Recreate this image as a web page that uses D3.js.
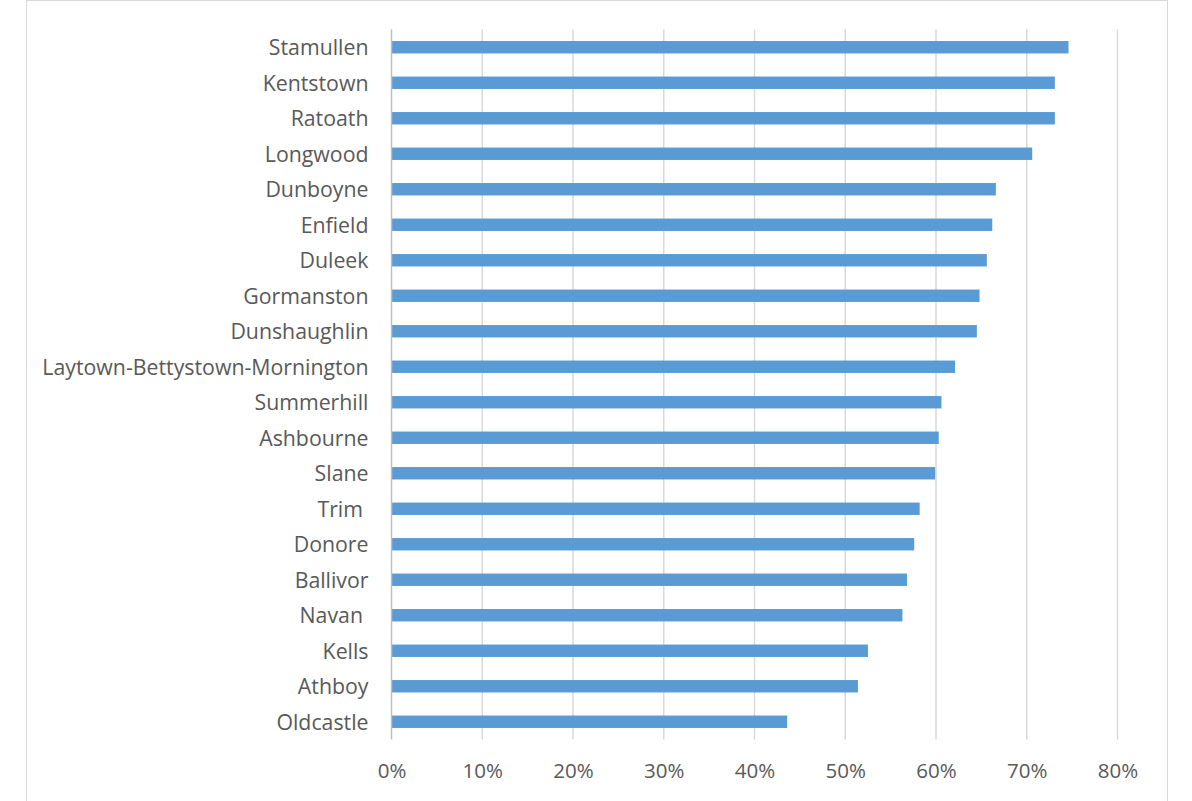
<!DOCTYPE html>
<html>
<head>
<meta charset="utf-8">
<script src="https://cdn.jsdelivr.net/npm/d3@7"></script>
<style>
  html, body { margin: 0; padding: 0; background: #fff; }
  svg text { white-space: pre; }
</style>
</head>
<body>
<svg id="chart" width="1192" height="801"></svg>
<script>
// Share of households by town, ordered from highest to lowest
const towns = [
  "Stamullen", "Kentstown", "Ratoath", "Longwood", "Dunboyne", "Enfield",
  "Duleek", "Gormanston", "Dunshaughlin", "Laytown-Bettystown-Mornington",
  "Summerhill", "Ashbourne", "Slane", "Trim ", "Donore", "Ballivor",
  "Navan ", "Kells", "Athboy", "Oldcastle"
];
const shares = [
  0.746, 0.731, 0.731, 0.706, 0.666, 0.662,
  0.656, 0.648, 0.645, 0.621,
  0.606, 0.603, 0.599, 0.582, 0.576, 0.568,
  0.563, 0.525, 0.514, 0.436
];
const tickValues = [0, 0.1, 0.2, 0.3, 0.4, 0.5, 0.6, 0.7, 0.8];

const svg = d3.select("#chart");
const font = "'Open Sans', 'DejaVu Sans', sans-serif";
const textColor = "#595959";

// outer chart frame
svg.append("rect")
  .attr("x", 26.5).attr("y", 0.5)
  .attr("width", 1141).attr("height", 810)
  .attr("fill", "#fff")
  .attr("stroke", "#d9d9d9").attr("stroke-width", 1);

const plot = { left: 391.5, right: 1117.5, top: 29.5, bottom: 739.5 };

const x = d3.scaleLinear().domain([0, 0.8]).range([plot.left, plot.right]);
const y = d3.scaleBand().domain(towns).range([plot.top, plot.bottom]).paddingInner(0.65).paddingOuter(0.325);

// vertical gridlines
svg.append("g")
  .selectAll("line")
  .data(tickValues.slice(1))
  .join("line")
  .attr("x1", d => x(d)).attr("x2", d => x(d))
  .attr("y1", plot.top).attr("y2", plot.bottom)
  .attr("stroke", "#d9d9d9").attr("stroke-width", 1.5);

// bars
svg.append("g")
  .selectAll("rect")
  .data(towns)
  .join("rect")
  .attr("x", x(0))
  .attr("y", d => y(d))
  .attr("width", (d, i) => x(shares[i]) - x(0))
  .attr("height", y.bandwidth())
  .attr("fill", "#5b9bd5");

// category axis line
svg.append("line")
  .attr("x1", x(0)).attr("x2", x(0))
  .attr("y1", plot.top).attr("y2", plot.bottom)
  .attr("stroke", "#bfbfbf").attr("stroke-width", 1.5);

// category labels
const yAxis = d3.axisLeft(y).tickSize(0).tickPadding(23);
const gy = svg.append("g").attr("transform", `translate(${x(0)},0)`).call(yAxis);
gy.select(".domain").remove();
gy.selectAll("text")
  .attr("font-family", font).attr("font-size", 21.3)
  .attr("dy", "0.38em")
  .attr("fill", textColor);

// value axis labels
const xAxis = d3.axisBottom(x).tickValues(tickValues).tickFormat(d3.format(".0%")).tickSize(0).tickPadding(24);
const gx = svg.append("g").attr("transform", `translate(0,${plot.bottom})`).call(xAxis);
gx.select(".domain").remove();
gx.selectAll("text")
  .attr("font-family", font).attr("font-size", 20.5)
  .attr("fill", textColor);
</script>
</body>
</html>
